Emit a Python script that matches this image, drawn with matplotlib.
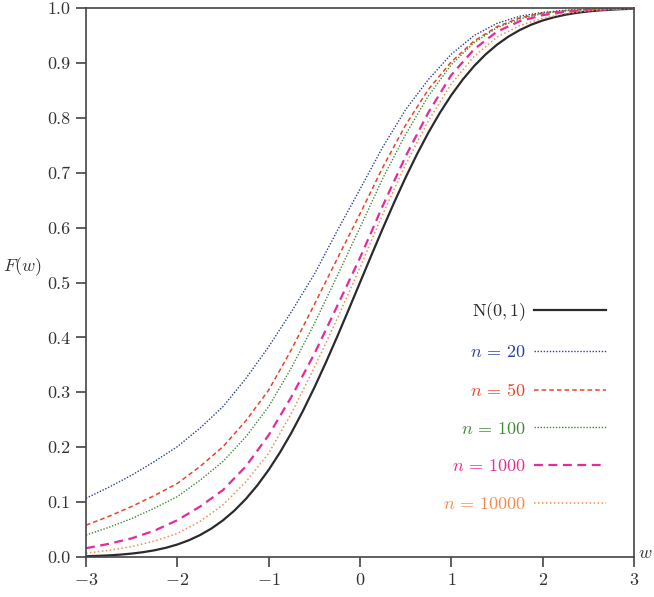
import numpy as np
import matplotlib
matplotlib.use("Agg")
import matplotlib.pyplot as plt

plt.rcParams.update({
    "font.family": "serif",
    "font.serif": ["cmr10"],
    "mathtext.fontset": "cm",
    "axes.formatter.use_mathtext": True,
    "axes.unicode_minus": True,
})

# N(0,1) read on a finer grid (table values)
w_normal = np.arange(-3, 3.001, 0.125)
F_normal = [0.00135, 0.00202, 0.00298, 0.00433, 0.00621, 0.00877, 0.01222, 0.01679,
            0.02275, 0.03040, 0.04006, 0.05208, 0.06681, 0.08457, 0.10565, 0.13029,
            0.15866, 0.19079, 0.22663, 0.26599, 0.30854, 0.35383, 0.40129, 0.45026,
            0.50000, 0.54974, 0.59871, 0.64617, 0.69146, 0.73401, 0.77337, 0.80921,
            0.84134, 0.86971, 0.89435, 0.91543, 0.93319, 0.94792, 0.95994, 0.96960,
            0.97725, 0.98321, 0.98778, 0.99123, 0.99379, 0.99567, 0.99702, 0.99798,
            0.99865]

# grid of w values at which the sample curves were read
w = np.arange(-3, 3.01, 0.25)
F_n20 = [0.107, 0.127, 0.149, 0.174, 0.201, 0.235, 0.274, 0.325, 0.383, 0.447, 0.515,
         0.594, 0.670, 0.747, 0.815, 0.870, 0.916, 0.950, 0.972, 0.985, 0.992, 0.996,
         0.998, 0.999, 0.9995]
F_n50 = [0.058, 0.074, 0.092, 0.112, 0.134, 0.165, 0.201, 0.248, 0.304, 0.378, 0.460,
         0.543, 0.625, 0.710, 0.787, 0.852, 0.902, 0.940, 0.966, 0.982, 0.991, 0.995,
         0.998, 0.999, 0.9995]
F_n100 = [0.040, 0.054, 0.070, 0.089, 0.110, 0.140, 0.174, 0.219, 0.274, 0.345, 0.425,
          0.512, 0.600, 0.690, 0.770, 0.840, 0.897, 0.937, 0.964, 0.980, 0.990, 0.995,
          0.997, 0.999, 0.9995]
F_n1000 = [0.016, 0.024, 0.034, 0.048, 0.067, 0.092, 0.122, 0.165, 0.222, 0.292, 0.370,
           0.457, 0.545, 0.640, 0.730, 0.810, 0.878, 0.925, 0.957, 0.976, 0.987, 0.993,
           0.996, 0.998, 0.9995]
F_n10000 = [0.007, 0.012, 0.019, 0.029, 0.043, 0.065, 0.095, 0.137, 0.189, 0.262, 0.345,
            0.434, 0.527, 0.625, 0.715, 0.795, 0.862, 0.912, 0.947, 0.968, 0.981, 0.990,
            0.995, 0.998, 0.999]

labels = [r"$\mathrm{N}(0,1)$", r"$n\,=\,20$", r"$n\,=\,50$", r"$n\,=\,100$",
          r"$n\,=\,1000$", r"$n\,=\,10000$"]

fig = plt.figure(figsize=(6.54, 5.97), dpi=100)
ax = fig.add_axes([86 / 654, 40 / 597, 548 / 654, 549 / 597])

ax.plot(w_normal, F_normal, color="#2b2b2b", lw=1.6, ls="-", label=labels[0])
ax.plot(w, F_n20, color="#2e3f9e", lw=1.0, ls=(0, (1, 1.2)), label=labels[1])
ax.plot(w, F_n50, color="#e8452a", lw=1.1, ls=(0, (3, 2)), label=labels[2])
ax.plot(w, F_n100, color="#3f8a33", lw=1.0, ls=(0, (1, 1.2)), label=labels[3])
ax.plot(w, F_n1000, color="#e62a96", lw=1.6, ls=(0, (4, 2.5)), label=labels[4])
ax.plot(w, F_n10000, color="#f28c4e", lw=1.1, ls=(0, (1, 1.6)), label=labels[5])

ax.set_xlim(-3, 3)
ax.set_ylim(0, 1)
ax.set_xticks(np.arange(-3, 4, 1))
ax.set_yticks(np.arange(0, 1.01, 0.1))
ax.set_yticklabels([f"{v:.1f}" for v in np.arange(0, 1.01, 0.1)])

for s in ax.spines.values():
    s.set_color("#444444")
    s.set_linewidth(1.2)
ax.tick_params(direction="out", length=7, width=1.2, color="#444444",
               labelcolor="#333333", labelsize=13, pad=4)

fig.text(22 / 654, 1 - 267 / 597, r"$F(w)$", fontsize=13, color="#333333",
         ha="center", va="center")
fig.text(638 / 654, 1 - 553 / 597, r"$w$", fontsize=13, color="#333333",
         ha="left", va="center")

leg = ax.legend(loc="upper right", bbox_to_anchor=(606 / 654, 1 - 300 / 597),
                bbox_transform=fig.transFigure, frameon=False, markerfirst=False,
                fontsize=13, handlelength=4.0, handletextpad=0.45,
                labelspacing=1.2, borderpad=0, borderaxespad=0,
                labelcolor="linecolor")

fig.savefig("out.png", dpi=100)
